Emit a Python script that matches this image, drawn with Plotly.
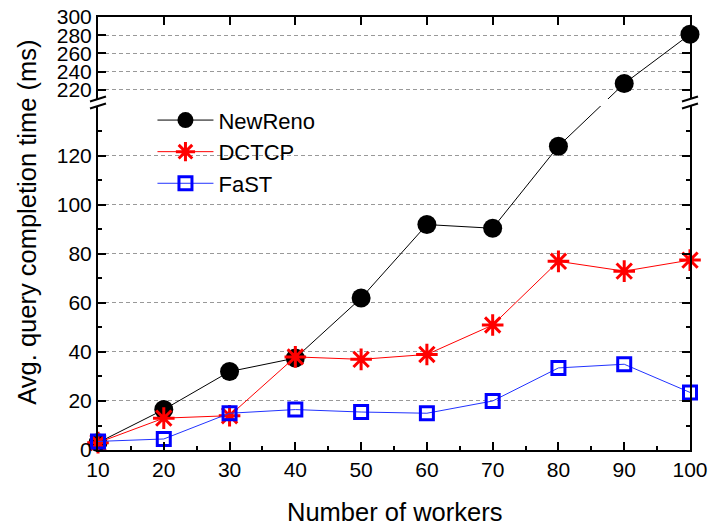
import plotly.graph_objects as go

workers = [10, 20, 30, 40, 50, 60, 70, 80, 90, 100]
newreno = [3, 16.5, 32, 37.5, 62, 92, 90.5, 124, 227, 281]
dctcp = [3, 13, 14, 38, 37, 39, 51, 77, 73, 77.5]
fast = [3.5, 4.5, 15, 16.5, 15.5, 15, 20, 33.5, 35, 23.5]

lower_ticks = [0, 20, 40, 60, 80, 100, 120]
upper_ticks = [220, 240, 260, 280, 300]

LOW_RANGE = [0, 140.4]
UP_RANGE = [210, 300]
LOW_DOM = [0, 0.7945]
UP_DOM = [0.8106, 1]

FONT = "Liberation Sans, Arial, sans-serif"

fig = go.Figure()

# split NewReno between the lower and upper panels
lo_x = [x for x, v in zip(workers, newreno) if v <= LOW_RANGE[1]]
lo_y = [v for v in newreno if v <= LOW_RANGE[1]]
hi_x = [x for x, v in zip(workers, newreno) if v >= UP_RANGE[0]]
hi_y = [v for v in newreno if v >= UP_RANGE[0]]

# connector axis: a linear axis spanning the whole plot that places the last lower
# point and the first upper point exactly where the two panels put them
p_lo = LOW_DOM[0] + (LOW_DOM[1] - LOW_DOM[0]) * (lo_y[-1] - LOW_RANGE[0]) / (LOW_RANGE[1] - LOW_RANGE[0])
p_hi = UP_DOM[0] + (UP_DOM[1] - UP_DOM[0]) * (hi_y[0] - UP_RANGE[0]) / (UP_RANGE[1] - UP_RANGE[0])
span = (hi_y[0] - lo_y[-1]) / (p_hi - p_lo)
r0 = lo_y[-1] - p_lo * span
conn_range = [r0, r0 + span]

fig.add_trace(go.Scatter(x=[lo_x[-1], hi_x[0]], y=[lo_y[-1], hi_y[0]], xaxis="x", yaxis="y3",
                         mode="lines", line=dict(color="black", width=1), showlegend=False,
                         hoverinfo="skip"))

fig.add_trace(go.Scatter(x=lo_x, y=lo_y, xaxis="x", yaxis="y", name="NewReno",
                         mode="lines+markers", legendgroup="nr",
                         line=dict(color="black", width=1),
                         marker=dict(symbol="circle", size=19, color="black"),
                         cliponaxis=False))
fig.add_trace(go.Scatter(x=hi_x, y=hi_y, xaxis="x2", yaxis="y2", name="NewReno",
                         mode="lines+markers", legendgroup="nr", showlegend=False,
                         line=dict(color="black", width=1),
                         marker=dict(symbol="circle", size=19, color="black"),
                         cliponaxis=False))
fig.add_trace(go.Scatter(x=workers, y=dctcp, xaxis="x", yaxis="y", name="DCTCP",
                         mode="lines+markers",
                         line=dict(color="#ff0000", width=1),
                         marker=dict(symbol="asterisk-open", size=18,
                                     line=dict(color="#ff0000", width=3)),
                         cliponaxis=False))
fig.add_trace(go.Scatter(x=workers, y=fast, xaxis="x", yaxis="y", name="FaST",
                         mode="lines+markers",
                         line=dict(color="#2233ff", width=1),
                         marker=dict(symbol="square-open", size=13, color="#0000ff",
                                     line=dict(color="#0000ff", width=3)),
                         cliponaxis=False))

grid = dict(showgrid=True, gridcolor="#999999", griddash="4px,3px", gridwidth=1)
tickfont = dict(family=FONT, size=21, color="black")

fig.update_layout(
    width=712, height=525,
    margin=dict(l=98, r=22, t=17, b=75, autoexpand=False),
    paper_bgcolor="white", plot_bgcolor="rgba(0,0,0,0)",
    font=dict(family=FONT, color="black"),
    xaxis=dict(domain=[0, 1], range=[10, 100], anchor="y", tickmode="array", tickvals=workers,
               ticks="inside", ticklen=8, tickwidth=1.5, tickcolor="black",
               minor=dict(ticks="inside", ticklen=4, tickwidth=1.5, tickcolor="black", dtick=5, tick0=10),
               showline=True, linecolor="black", linewidth=2, showgrid=False, zeroline=False,
               tickfont=tickfont, ticklabeloverflow="allow", automargin=False),
    xaxis2=dict(domain=[0, 1], range=[10, 100], anchor="y2", matches="x", side="top",
                tickmode="array", tickvals=workers, showticklabels=False,
                ticks="inside", ticklen=8, tickwidth=1.5, tickcolor="black",
                showline=True, linecolor="black", linewidth=2, showgrid=False, zeroline=False,
                automargin=False),
    yaxis=dict(domain=LOW_DOM, range=LOW_RANGE, anchor="x", tickmode="array", tickvals=lower_ticks,
               ticks="inside", ticklen=8, tickwidth=1.5, tickcolor="black",
               minor=dict(ticks="inside", ticklen=4, tickwidth=1.5, tickcolor="black",
                          tickvals=[10, 30, 50, 70, 90, 110, 130], showgrid=False),
               showline=True, linecolor="black", linewidth=2, mirror="ticks", zeroline=False,
               tickfont=tickfont, ticklabeloverflow="allow", automargin=False, **grid),
    yaxis2=dict(domain=UP_DOM, range=UP_RANGE, anchor="x2", tickmode="array", tickvals=upper_ticks,
                ticks="inside", ticklen=8, tickwidth=1.5, tickcolor="black",
                showline=True, linecolor="black", linewidth=2, mirror="ticks", zeroline=False,
                tickfont=tickfont, ticklabeloverflow="allow", automargin=False, **grid),
    yaxis3=dict(domain=[0, 1], range=conn_range, anchor="x", visible=False, automargin=False),
    legend=dict(x=0.092, y=0.81, xanchor="left", yanchor="top", bgcolor="rgba(0,0,0,0)",
                font=dict(family=FONT, size=22, color="black"), itemwidth=56, tracegroupgap=0),
    showlegend=True,
)

# gap band between the two panels and the break marks
shapes = [dict(type="rect", xref="paper", yref="paper", x0=0.003, x1=0.997,
               y0=LOW_DOM[1], y1=UP_DOM[0], fillcolor="white", line=dict(width=0), layer="above")]
for xc in (0.0, 1.0):
    for yc in (LOW_DOM[1], UP_DOM[0]):
        shapes.append(dict(type="line", xref="paper", yref="paper",
                           x0=xc - 0.0135, x1=xc + 0.0135, y0=yc - 0.0058, y1=yc + 0.0058,
                           line=dict(color="black", width=2), layer="above"))
fig.update_layout(shapes=shapes)

fig.add_annotation(text="Avg. query completion time (ms)", xref="paper", yref="paper",
                   x=-0.12, y=0.527, textangle=-90, showarrow=False,
                   font=dict(family=FONT, size=25.5, color="black"), xanchor="center", yanchor="middle")
fig.add_annotation(text="Number of workers", xref="paper", yref="paper",
                   x=0.5, y=-0.143, showarrow=False,
                   font=dict(family=FONT, size=25.5, color="black"), xanchor="center", yanchor="middle")

# remove the browser's default body margin so the 712x525 figure fills the window exactly
fig.write_html("out.html", config={"displayModeBar": False},
               post_script="document.body.style.margin='0';document.body.style.overflow='hidden';")
